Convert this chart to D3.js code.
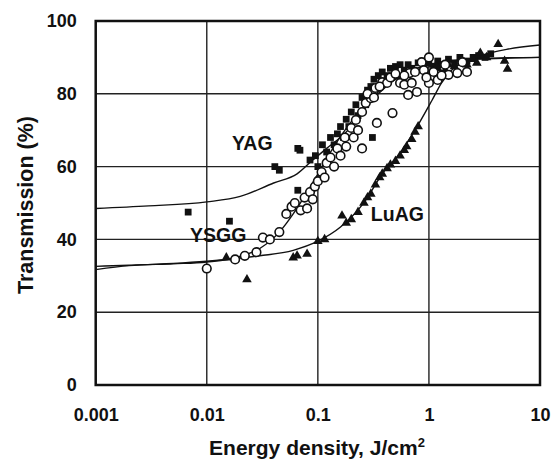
<!DOCTYPE html>
<html><head><meta charset="utf-8">
<script src="https://cdn.jsdelivr.net/npm/d3@7/dist/d3.min.js"></script>
<style>
html,body{margin:0;padding:0;background:#fff;}
svg{display:block;font-family:Arial,"Liberation Sans",sans-serif;}
</style></head>
<body>
<svg id="chart" width="551" height="459"></svg>
<script>
// ---- data ----
const xTickValues = [0.001, 0.01, 0.1, 1, 10];
const xTickLabels = ["0.001", "0.01", "0.1", "1", "10"];
const yTickValues = [0, 20, 40, 60, 80, 100];
const yTickLabels = ["0", "20", "40", "60", "80", "100"];

// YAG – filled squares
const yagE = [0.0068,0.016,0.041,0.045,0.066,0.066,0.069,0.31,
  0.085,0.095,0.1,0.11,0.12,0.13,0.14,0.15,0.16,0.17,0.18,0.19,0.2,0.22,0.23,0.25,0.27,0.28,0.3,0.32,0.35,0.38,0.42,0.45,0.5,0.55,0.6,0.65,0.7,0.8,0.9,1.0,1.1,1.2,1.3,1.5,1.7,1.9,2.2,2.5,2.8,3.2,3.6];
const yagT = [47.5,45,60,59,65,53.5,64.5,68,
  61.8,63,60,66,64,68,66,69,71,68,73,71,75,77,74,79,77,81,82,84,85,86,85,87,87.5,88,86.5,88,87,88.5,87,88.5,87.5,89,88,89.5,88.5,90,89,90,90.5,90,91];

// YSGG – open circles
const ysggE = [0.01,0.018,0.022,0.028,0.032,0.037,0.045,0.052,0.058,0.062,0.07,0.076,0.08,0.085,0.09,0.094,0.1,0.108,0.115,0.12,0.13,0.14,0.15,0.16,0.175,0.18,0.2,0.21,0.22,0.23,0.25,0.25,0.27,0.3,0.33,0.34,0.38,0.42,0.47,0.55,0.6,0.65,0.67,0.78,0.86,0.9,1.0,1.0,1.1,1.2,1.4,1.5,1.8,2.0,2.2,
  0.28,0.32,0.36,0.45,0.5,0.6,0.7,0.75,0.95,1.3];
const ysggT = [32,34.5,35.5,36.5,40.5,40,42,47,49,50,48,51.5,48.5,53,51,54.5,56,58.5,57,61,62.5,60,65,63,68,65.5,70.6,68,72.8,70,75,65,77.5,78.8,81.6,72,83.2,83,74.7,83,82.5,79.7,85.7,80.5,88.7,86.5,90,83,86,83.8,88,85.2,85.7,88.7,86,
  80,79,82,84.5,85.5,85,83,86,84.5,85];

// LuAG – filled triangles
const luagE = [0.015,0.023,0.06,0.065,0.08,0.1,0.115,0.165,0.18,0.2,0.23,0.26,0.28,0.3,0.33,0.36,0.38,0.42,0.45,0.5,0.55,0.6,0.63,0.7,0.75,0.8,1.2,1.4,1.5,1.7,2.0,2.2,2.5,2.7,2.9,3.3,4.2,4.8,5.1];
const luagT = [35,29,35,35.5,36,39.5,40,46.5,44.5,45.5,47.5,50,51.5,52.5,55,57,58,59.5,60.5,61.5,63,64.5,65.5,67.5,69.5,71,87,86.5,88,87.5,89,88,89.5,88.5,91.2,90,93.6,89,86.8];

// fitted curves
const yagCurveE = [0.001,0.003,0.01,0.02,0.04,0.065,0.09,0.12,0.18,0.25,0.35,0.5,0.7,1,2,4,10];
const yagCurveT = [48.5,49.2,50.3,51.8,55.5,58,61.8,65,69.5,75,80,84,86.5,88,89.3,89.7,90];
const ysggCurveE = [0.001,0.002,0.005,0.01,0.02,0.03,0.045,0.06,0.08,0.1,0.13,0.18,0.25,0.35,0.5,0.8,1.2,2,4,10];
const ysggCurveT = [31.7,32.8,33.3,33.8,35.3,37.5,42,47,53,58,64,70.5,76,80.5,84,86.5,88,89.3,89.8,90];
const luagCurveE = [0.001,0.002,0.005,0.01,0.03,0.06,0.1,0.16,0.27,0.38,0.55,0.78,1.07,1.3,1.6,2,3,5,10];
const luagCurveT = [32.6,32.9,33.4,34,35.5,37,39.5,43.4,50.8,58,63.7,70.9,78.3,83,86.5,88.5,90.6,92.2,93.4];

const labels = [
  {text:"YAG", e:0.0169, t:64.5},
  {text:"YSGG", e:0.00706, t:39.3},
  {text:"LuAG", e:0.3, t:45}
];

// ---- drawing ----
const svg = d3.select("#chart");
const L = 95.7, R = 540, T = 21, B = 385;
const x = d3.scaleLog().domain([0.001, 10]).range([L, R]);
const y = d3.scaleLinear().domain([0, 100]).range([B, T]);

// grid
const g = svg.append("g");
g.selectAll(".gx").data(xTickValues).join("line")
  .attr("x1", d => x(d)).attr("x2", d => x(d)).attr("y1", T).attr("y2", B)
  .attr("stroke", "#222").attr("stroke-width", 1.4);
g.selectAll(".gy").data(yTickValues).join("line")
  .attr("x1", L).attr("x2", R).attr("y1", d => y(d)).attr("y2", d => y(d))
  .attr("stroke", "#222").attr("stroke-width", 1.4);

// axes labels
const yAxis = d3.axisLeft(y).tickValues(yTickValues).tickSize(0).tickPadding(19)
  .tickFormat((d, i) => yTickLabels[i]);
const ya = svg.append("g").attr("transform", `translate(${L},0)`).call(yAxis);
const xAxis = d3.axisBottom(x).tickValues(xTickValues).tickSize(0).tickPadding(23)
  .tickFormat((d, i) => xTickLabels[i]);
const xa = svg.append("g").attr("transform", `translate(0,${B})`).call(xAxis);
[ya, xa].forEach(a => {
  a.select(".domain").remove();
  a.selectAll("text").attr("font-size", 18).attr("font-weight", "bold")
    .attr("font-family", "Arial, 'Liberation Sans', sans-serif").attr("fill", "#111");
});

// curves
const line = d3.line().x(d => x(d[0])).y(d => y(d[1])).curve(d3.curveMonotoneX);
[[yagCurveE, yagCurveT],[ysggCurveE, ysggCurveT],[luagCurveE, luagCurveT]].forEach(([E, Tv]) => {
  svg.append("path").datum(E.map((e, i) => [e, Tv[i]]))
    .attr("d", line).attr("fill", "none").attr("stroke", "#111").attr("stroke-width", 1.4);
});

// markers
const sq = d3.symbol().type(d3.symbolSquare).size(46);
const tri = d3.symbol().type(d3.symbolTriangle).size(40);
svg.append("g").selectAll("path").data(yagE.map((e, i) => [e, yagT[i]])).join("path")
  .attr("d", sq).attr("transform", d => `translate(${x(d[0])},${y(d[1])})`).attr("fill", "#111");
svg.append("g").selectAll("path").data(luagE.map((e, i) => [e, luagT[i]])).join("path")
  .attr("d", tri).attr("transform", d => `translate(${x(d[0])},${y(d[1])})`).attr("fill", "#111");
svg.append("g").selectAll("circle").data(ysggE.map((e, i) => [e, ysggT[i]])).join("circle")
  .attr("cx", d => x(d[0])).attr("cy", d => y(d[1])).attr("r", 4.3)
  .attr("fill", "#fff").attr("stroke", "#111").attr("stroke-width", 1.6);

// frame
svg.append("rect").attr("x", L).attr("y", T).attr("width", R - L).attr("height", B - T)
  .attr("fill", "none").attr("stroke", "#111").attr("stroke-width", 2.5);

// series labels
svg.append("g").selectAll("text").data(labels).join("text")
  .attr("x", d => x(d.e)).attr("y", d => y(d.t)).text(d => d.text)
  .attr("font-size", 19.5).attr("font-weight", "bold").attr("fill", "#111");

// axis titles
svg.append("text").attr("x", 317).attr("y", 455).attr("text-anchor", "middle")
  .attr("font-size", 21).attr("font-weight", "bold").attr("fill", "#111")
  .html('Energy density, J/cm<tspan dy="-8" font-size="13">2</tspan>');
svg.append("text").attr("transform", "translate(33,205) rotate(-90)").attr("text-anchor", "middle")
  .attr("font-size", 21.5).attr("font-weight", "bold").attr("fill", "#111")
  .text("Transmission (%)");
</script>
</body></html>
